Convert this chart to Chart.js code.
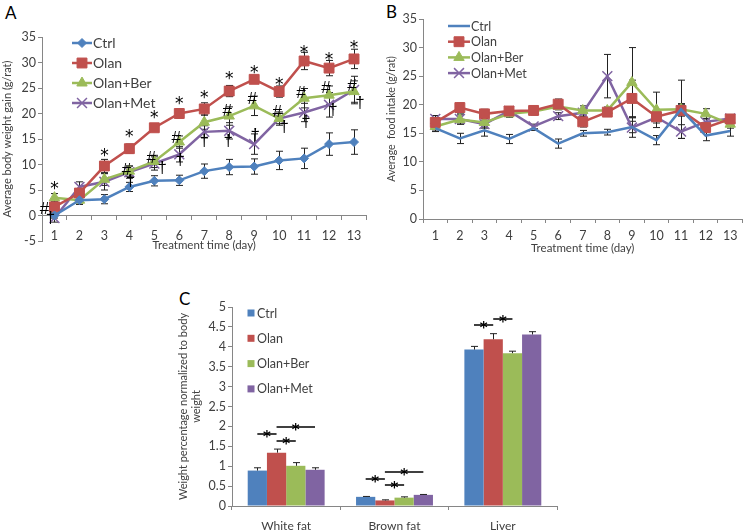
<!DOCTYPE html>
<html>
<head>
<meta charset="utf-8">
<script src="https://cdn.jsdelivr.net/npm/chart.js@4.4.1/dist/chart.umd.min.js"></script>
<style>
  html, body { margin: 0; padding: 0; background: #fff; width: 751px; height: 531px; overflow: hidden; }
  canvas { position: absolute; }
  .tag { position: absolute; font: 17px Lato, sans-serif; color: #000; line-height: 1; }
</style>
</head>
<body>
<div class="tag" style="left:5px;top:4px">A</div>
<div class="tag" style="left:386px;top:3px">B</div>
<div class="tag" style="left:179px;top:290px">C</div>
<canvas id="chartA" width="375" height="255" style="left:0;top:0"></canvas>
<canvas id="chartB" width="376" height="255" style="left:375px;top:0"></canvas>
<canvas id="chartC" width="395" height="250" style="left:170px;top:285px"></canvas>
<script>
// shared categories / groups
const days = ['1', '2', '3', '4', '5', '6', '7', '8', '9', '10', '11', '12', '13'];
const groups = ['Ctrl', 'Olan', 'Olan+Ber', 'Olan+Met'];

// A: average body weight gain (g/rat), mean and SEM
const gainCtrl = [0, 3.0, 3.2, 5.6, 6.8, 6.9, 8.7, 9.5, 9.6, 10.8, 11.2, 14.0, 14.4];
const gainCtrlErr = [0.5, 0.8, 0.9, 0.9, 1.0, 1.0, 1.4, 1.5, 1.5, 1.8, 2.0, 2.2, 2.4];
const gainOlan = [1.7, 4.4, 9.7, 13.1, 17.2, 20.0, 20.9, 24.4, 26.7, 24.3, 30.3, 28.9, 30.7];
const gainOlanErr = [0.5, 0.8, 1.3, 0.9, 0.6, 0.9, 1.2, 1.1, 0.8, 1.1, 1.7, 1.5, 1.9];
const gainBer = [3.5, 3.0, 7.1, 8.7, 10.6, 14.4, 18.3, 19.5, 21.5, 19.0, 23.0, 23.6, 24.3];
const gainBerErr = [0.8, 0.8, 1.2, 1.0, 1.2, 1.2, 1.4, 1.8, 1.9, 1.0, 1.9, 1.8, 2.1];
const gainMet = [-0.5, 5.6, 6.6, 8.5, 10.2, 12.0, 16.4, 16.6, 14.0, 19.0, 20.2, 21.7, 24.6];
const gainMetErr = [0.8, 1.0, 1.6, 1.2, 1.3, 1.5, 1.2, 1.6, 2.0, 1.3, 1.8, 2.4, 2.7];

// A: significance marks [day, level, nudge]
const starDays = [1, 3, 4, 5, 6, 7, 8, 9, 10, 11, 12, 13];
const starLevels = [5.9, 12.3, 16.1, 19.8, 22.5, 23.8, 27.4, 28.7, 26.3, 32.5, 31.2, 33.6];
const hashMarks = [[1, 1.5, -10], [4, 9.2, -3], [5, 11.5, -3], [6, 15.4, -3], [8, 20.6, -2],
  [9, 23.1, -2], [10, 20.5, -2], [11, 24.3, -3], [12, 25.1, -3], [13, 25.6, -2]];
const daggerMarks = [[1, -0.3, -4], [4, 6.9, 1], [5, 9.5, 8], [6, 11, 1], [7, 14.8, 0], [8, 14.8, -1],
  [9, 15.8, 1], [10, 17.4, 5], [11, 18.4, 2], [12, 20.8, 4], [13, 22.1, 6]];

// B: average food intake (g/rat)
const foodCtrl = [15.9, 14.1, 15.5, 14.0, 15.9, 13.2, 15.0, 15.2, 16.1, 13.8, 19.2, 14.6, 15.4];
const foodCtrlErr = [0.6, 0.9, 1.0, 0.8, 0.4, 0.8, 0.5, 0.5, 1.0, 0.8, 5.1, 0.9, 0.9];
const foodOlan = [16.9, 19.5, 18.4, 18.9, 19.0, 20.1, 17.0, 18.7, 21.1, 17.9, 19.0, 16.0, 17.5];
const foodOlanErr = [1.2, 0.8, 0.8, 0.5, 0.5, 0.9, 0.9, 0.6, 3.2, 0.6, 1.0, 0.6, 0.8];
const foodBer = [16.2, 17.4, 16.9, 18.4, 18.8, 19.7, 19.0, 19.0, 23.9, 19.1, 19.2, 18.4, 16.6];
const foodBerErr = [0.8, 0.8, 0.8, 0.6, 0.6, 0.6, 0.8, 0.6, 6.1, 3.1, 1.0, 0.9, 0.7];
const foodMet = [17.5, 17.5, 16.6, 18.9, 16.2, 18.0, 18.6, 25.0, 16.0, 17.8, 15.3, 17.0, 17.6];
const foodMetErr = [0.6, 0.9, 0.7, 0.5, 0.4, 0.6, 0.8, 3.8, 1.7, 1.0, 1.2, 0.6, 0.6];

// C: organ weight as % of body weight
const organs = ['White fat', 'Brown fat', 'Liver'];
const organCtrl = [0.89, 0.23, 3.93];
const organCtrlErr = [0.07, 0.01, 0.08];
const organOlan = [1.34, 0.14, 4.19];
const organOlanErr = [0.09, 0.015, 0.14];
const organBer = [1.01, 0.21, 3.84];
const organBerErr = [0.08, 0.02, 0.05];
const organMet = [0.91, 0.28, 4.31];
const organMetErr = [0.05, 0.01, 0.07];
// [organ index, group a, group b, level]
const organBrackets = [[0, 0, 1, 1.81], [0, 1, 3, 1.98], [0, 1, 2, 1.64],
  [1, 0, 1, 0.67], [1, 1, 3, 0.85], [1, 1, 2, 0.53], [2, 0, 1, 4.56], [2, 1, 2, 4.71]];

const COLORS = ['#4F81BD', '#C0504D', '#9BBB59', '#8064A2'];
const AXIS = '#868686';
const INK = '#404040';
const FONT = 'Lato, sans-serif';
const SYM = '"DejaVu Sans", sans-serif';

Chart.defaults.font.family = FONT;
Chart.defaults.color = INK;

function glyph(ctx, ch, x, y, font) {
  ctx.font = font;
  const m = ctx.measureText(ch);
  ctx.textAlign = 'center';
  ctx.textBaseline = 'alphabetic';
  ctx.fillText(ch, x, y + (m.actualBoundingBoxAscent - m.actualBoundingBoxDescent) / 2);
}

// mean +/- error whiskers
const errorBars = {
  id: 'errorBars',
  draw(chart, opts) {
    const { ctx } = chart, y = chart.scales.y;
    ctx.save();
    ctx.strokeStyle = opts.color || '#222';
    ctx.lineWidth = 1;
    chart.data.datasets.forEach((ds, di) => {
      if (!ds.errors) return;
      chart.getDatasetMeta(di).data.forEach((el, i) => {
        const v = ds.data[i], e = ds.errors[i];
        const x = Math.round(el.x) + 0.5;
        const top = y.getPixelForValue(v + e);
        const bot = y.getPixelForValue(opts.upperOnly ? v : v - e);
        ctx.beginPath();
        ctx.moveTo(x, top); ctx.lineTo(x, bot);
        ctx.moveTo(x - 3.5, top); ctx.lineTo(x + 3.5, top);
        if (!opts.upperOnly) { ctx.moveTo(x - 3.5, bot); ctx.lineTo(x + 3.5, bot); }
        ctx.stroke();
      });
    });
    ctx.restore();
  },
  beforeDatasetsDraw(chart, args, opts) { if (opts.behind) this.draw(chart, opts); },
  afterDatasetsDraw(chart, args, opts) { if (opts.behind === false) this.draw(chart, opts); }
};

// legend drawn inside the plot, Excel style
const boxLegend = {
  id: 'boxLegend',
  afterDraw(chart, args, opts) {
    if (opts.x === undefined) return;
    const { ctx } = chart;
    ctx.save();
    chart.data.datasets.forEach((ds, i) => {
      const y = opts.y + i * opts.gap;
      let tx;
      if (opts.kind === 'bar') {
        ctx.fillStyle = ds.backgroundColor;
        ctx.fillRect(opts.x - 3.5, y - 3.5, 7, 7);
        tx = opts.x + 6;
      } else {
        ctx.strokeStyle = ds.borderColor;
        ctx.lineWidth = ds.borderWidth;
        ctx.beginPath(); ctx.moveTo(opts.x, y); ctx.lineTo(opts.x + opts.len, y); ctx.stroke();
        if (ds.pointRadius > 0) {
          ctx.fillStyle = ds.pointBackgroundColor;
          ctx.strokeStyle = ds.pointBorderColor;
          ctx.lineWidth = ds.pointBorderWidth;
          Chart.helpers.drawPoint(ctx, { pointStyle: ds.pointStyle, radius: ds.pointRadius, rotation: 0, borderWidth: ds.pointBorderWidth },
            opts.x + opts.len / 2, y);
        }
        tx = opts.x + opts.len + 1;
      }
      ctx.fillStyle = INK;
      ctx.font = opts.size + 'px ' + FONT;
      ctx.textAlign = 'left';
      ctx.textBaseline = 'middle';
      ctx.fillText(ds.label, tx, y + 0.5);
    });
    ctx.restore();
  }
};

// *, #, dagger symbols at data coordinates
const symbolMarks = {
  id: 'symbolMarks',
  afterDatasetsDraw(chart, args, opts) {
    if (!opts.sets) return;
    const { ctx } = chart, x = chart.scales.x, y = chart.scales.y;
    ctx.save();
    ctx.fillStyle = '#000';
    opts.sets.forEach(s => s.points.forEach(([day, v, dx]) => {
      glyph(ctx, s.ch, x.getPixelForValue(day - 1) + (dx || 0), y.getPixelForValue(v), s.font);
    }));
    ctx.restore();
  }
};

// significance bars between two groups in panel C
const brackets = {
  id: 'brackets',
  afterDatasetsDraw(chart, args, opts) {
    if (!opts.list) return;
    const { ctx } = chart, y = chart.scales.y;
    ctx.save();
    ctx.strokeStyle = '#000';
    ctx.fillStyle = '#000';
    ctx.lineWidth = 1.5;
    opts.list.forEach(([cat, a, b, v]) => {
      const xa = chart.getDatasetMeta(a).data[cat].x;
      const xb = chart.getDatasetMeta(b).data[cat].x;
      const py = Math.round(y.getPixelForValue(v));
      ctx.beginPath(); ctx.moveTo(xa, py); ctx.lineTo(xb, py); ctx.stroke();
      glyph(ctx, '*', (xa + xb) / 2, py, 'bold 15px ' + SYM);
    });
    ctx.restore();
  }
};

const MARKERS = [
  { pointStyle: 'rectRot', pointRadius: 4.5 },
  { pointStyle: 'rect', pointRadius: 7 },
  { pointStyle: 'triangle', pointRadius: 6 },
  { pointStyle: 'crossRot', pointRadius: 7 }
];

function lineSet(i, data, errors, withMarker = true) {
  const m = withMarker ? MARKERS[i] : { pointStyle: 'circle', pointRadius: 0 };
  return {
    label: groups[i], data, errors,
    borderColor: COLORS[i], borderWidth: 2.5, tension: 0,
    pointStyle: m.pointStyle, pointRadius: m.pointRadius,
    pointBackgroundColor: COLORS[i], pointBorderColor: COLORS[i],
    pointBorderWidth: m.pointStyle === 'crossRot' ? 1.5 : 1
  };
}

function yAxis(min, max, step, title, width, titlePad, titleSize) {
  return {
    min, max,
    ticks: { stepSize: step, padding: 2, font: { size: 12.5 }, color: INK },
    grid: { drawOnChartArea: false, tickLength: 4, color: AXIS },
    border: { color: AXIS },
    title: { display: true, text: title, font: { size: titleSize }, color: INK, padding: { top: titlePad, bottom: 0 } },
    afterFit: s => { s.width = width; }
  };
}

function xAxis(extra) {
  return Object.assign({
    offset: true,
    grid: { offset: true, drawOnChartArea: false, tickLength: 4, color: AXIS },
    border: { color: AXIS }
  }, extra);
}

const baseOpts = { responsive: false, animation: false, events: [] };

// Panel A
new Chart(document.getElementById('chartA'), {
  type: 'line',
  data: {
    labels: days,
    datasets: [
      lineSet(0, gainCtrl, gainCtrlErr), lineSet(1, gainOlan, gainOlanErr),
      lineSet(2, gainBer, gainBerErr), lineSet(3, gainMet, gainMetErr)
    ]
  },
  options: {
    ...baseOpts,
    layout: { padding: { top: 37, right: 5, bottom: 14, left: 0 } },
    plugins: {
      legend: { display: false }, tooltip: { enabled: false },
      errorBars: { behind: true },
      boxLegend: { x: 72, y: 43, gap: 20, len: 20, size: 14 },
      symbolMarks: {
        sets: [
          { ch: '*', font: '17px ' + SYM, points: starDays.map((d, i) => [d, starLevels[i], 0]) },
          { ch: '#', font: '17px "Liberation Sans", sans-serif', points: hashMarks },
          { ch: '\u2020', font: '17px "Liberation Sans", sans-serif', points: daggerMarks }
        ]
      }
    },
    scales: {
      x: xAxis({
        position: { y: 0 },
        ticks: { font: { size: 12.5 }, color: INK, maxRotation: 0, autoSkip: false, padding: 9 },
        title: { display: true, text: 'Treatment time (day)', font: { size: 11.5 }, color: INK, padding: 0 },
        afterFit: s => { s.height = 37; }
      }),
      y: yAxis(-5, 35, 5, 'Average body weight gain (g/rat)', 42, 1, 11)
    }
  },
  plugins: [errorBars, boxLegend, symbolMarks]
});

// Panel B
new Chart(document.getElementById('chartB'), {
  type: 'line',
  data: {
    labels: days,
    datasets: [
      lineSet(0, foodCtrl, foodCtrlErr, false), lineSet(1, foodOlan, foodOlanErr),
      lineSet(2, foodBer, foodBerErr), lineSet(3, foodMet, foodMetErr)
    ]
  },
  options: {
    ...baseOpts,
    layout: { padding: { top: 19, right: 4, bottom: 0, left: 0 } },
    plugins: {
      legend: { display: false }, tooltip: { enabled: false },
      errorBars: { behind: true },
      boxLegend: { x: 73, y: 26, gap: 15.7, len: 22, size: 12.5 }
    },
    scales: {
      x: xAxis({
        ticks: { font: { size: 12.5 }, color: INK, maxRotation: 0, autoSkip: false, padding: 5 },
        title: { display: true, text: 'Treatment time (day)', font: { size: 11.5 }, color: INK, padding: 0 },
        afterFit: s => { s.height = 36; }
      }),
      y: yAxis(0, 35, 5, 'Average  food intake (g/rat)', 48, 10, 10.5)
    }
  },
  plugins: [errorBars, boxLegend]
});

// Panel C
new Chart(document.getElementById('chartC'), {
  type: 'bar',
  data: {
    labels: organs,
    datasets: [organCtrl, organOlan, organBer, organMet].map((d, i) => ({
      label: groups[i], data: d,
      errors: [organCtrlErr, organOlanErr, organBerErr, organMetErr][i],
      backgroundColor: COLORS[i],
      barPercentage: 1, categoryPercentage: 0.71
    }))
  },
  options: {
    ...baseOpts,
    layout: { padding: { top: 22, right: 8, bottom: 0, left: 0 } },
    plugins: {
      legend: { display: false }, tooltip: { enabled: false },
      errorBars: { behind: false, upperOnly: true },
      boxLegend: { kind: 'bar', x: 81, y: 28, gap: 25.3, size: 12.5 },
      brackets: { list: organBrackets }
    },
    scales: {
      x: xAxis({
        ticks: { font: { size: 12 }, color: INK, maxRotation: 0, autoSkip: false, padding: 9 },
        afterFit: s => { s.height = 29; }
      }),
      y: Object.assign(yAxis(0, 5, 0.5, ['Weight percentage normalized to body', 'weight'], 62, 7, 11), {
        ticks: { stepSize: 0.5, padding: 2, font: { size: 12.5 }, color: INK, callback: v => String(v) }
      })
    }
  },
  plugins: [errorBars, boxLegend, brackets]
});
</script>
</body>
</html>
